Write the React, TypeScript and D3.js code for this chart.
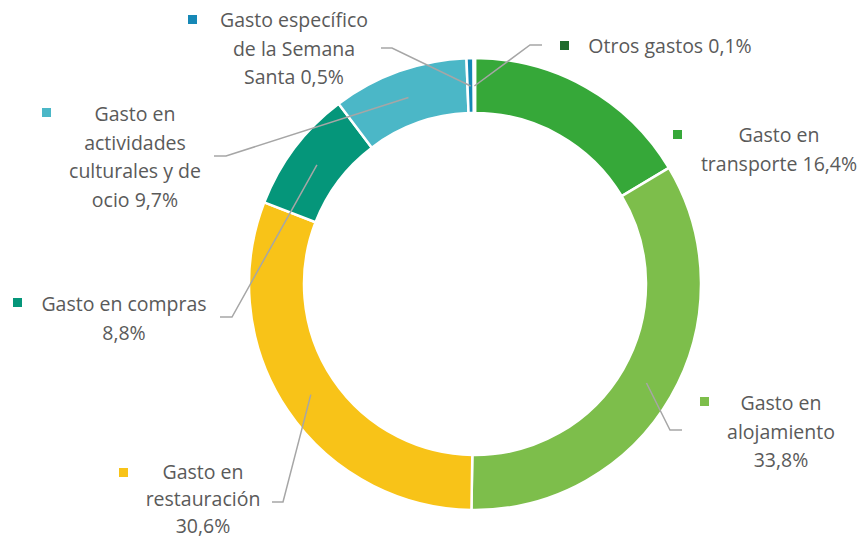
import React, { useEffect, useRef } from "react";
import * as d3 from "d3";

// gasto por partida (% del total)
const categories = [
  "Gasto en transporte",
  "Gasto en alojamiento",
  "Gasto en restauración",
  "Gasto en compras",
  "Gasto en actividades culturales y de ocio",
  "Gasto específico de la Semana Santa",
  "Otros gastos",
];
const values = [16.4, 33.8, 30.6, 8.8, 9.7, 0.5, 0.1];
const colors = ["#36a839", "#7dbe4b", "#f8c318", "#05967a", "#4bb7c7", "#1688b6", "#1f6b2c"];
const labelLines = [
  ["Gasto en", "transporte 16,4%"],
  ["Gasto en", "alojamiento", "33,8%"],
  ["Gasto en", "restauración", "30,6%"],
  ["Gasto en compras", "8,8%"],
  ["Gasto en", "actividades", "culturales y de", "ocio 9,7%"],
  ["Gasto específico", "de la Semana", "Santa 0,5%"],
  ["Otros gastos 0,1%"],
];

// label placement (text centre x, first baseline y, line step, key square x/y, leader elbow)
const labelLayout = [
  { cx: 779, y: 142, step: 28.5, kx: 673, ky: 130, elbow: null },
  { cx: 781, y: 410, step: 28.5, kx: 700, ky: 397, elbow: [[670, 430], [682, 430]] },
  { cx: 203, y: 479, step: 27, kx: 119, ky: 468, elbow: [[283, 502], [272, 502]] },
  { cx: 124, y: 311, step: 28.5, kx: 13, ky: 298, elbow: [[232, 317], [220, 317]] },
  { cx: 135, y: 121, step: 28.5, kx: 42, ky: 108, elbow: [[226, 156], [214, 156]] },
  { cx: 294, y: 27, step: 28.5, kx: 188, ky: 15, elbow: [[392, 48], [381, 48]] },
  { cx: 670, y: 53, step: 28.5, kx: 560, ky: 41, elbow: [[530, 45], [542, 45]] },
];

const W = 867, H = 540;

export default function App() {
  const ref = useRef<SVGSVGElement>(null);

  useEffect(() => {
    document.body.style.margin = "0";
    const svg = d3.select(ref.current);
    svg.selectAll("*").remove();

    const cx = 475, cy = 284;
    const outer = 226, inner = 171;
    const data = values.map((v, i) => ({ v, i }));

    const pie = d3.pie<any>().sort(null).value((d) => d.v);
    const arc = d3.arc<any>().innerRadius(inner).outerRadius(outer);
    const mid = d3.arc<any>().innerRadius(198).outerRadius(198);
    const arcs = pie(data);

    const g = svg.append("g").attr("transform", `translate(${cx},${cy})`);
    g.selectAll("path")
      .data(arcs)
      .join("path")
      .attr("d", arc)
      .attr("fill", (d) => colors[d.data.i])
      .attr("stroke", "#fff")
      .attr("stroke-width", 2.5)
      .attr("stroke-linejoin", "round");

    // leader lines
    const line = d3.line();
    arcs.forEach((a) => {
      const lay = labelLayout[a.data.i];
      if (!lay.elbow) return;
      const [mx, my] = mid.centroid(a);
      const pts: [number, number][] = [[mx + cx, my + cy], ...(lay.elbow as [number, number][])];
      svg.append("path")
        .attr("d", line(pts))
        .attr("fill", "none")
        .attr("stroke", "#a6a6a6")
        .attr("stroke-width", 1.5);
    });

    // labels
    labelLayout.forEach((lay, i) => {
      svg.append("rect")
        .attr("x", lay.kx)
        .attr("y", lay.ky)
        .attr("width", 9)
        .attr("height", 9)
        .attr("fill", colors[i]);
      const t = svg.append("text")
        .attr("text-anchor", "middle")
        .style("font-family", "'Open Sans', sans-serif")
        .style("font-weight", 400)
        .style("font-size", "19.5px")
        .attr("fill", "#5a5a5a");
      labelLines[i].forEach((s, k) => {
        t.append("tspan").attr("x", lay.cx).attr("y", lay.y + k * lay.step).text(s);
      });
    });
  }, []);

  return <svg ref={ref} width={W} height={H} style={{ display: "block", background: "#fff" }} />;
}
